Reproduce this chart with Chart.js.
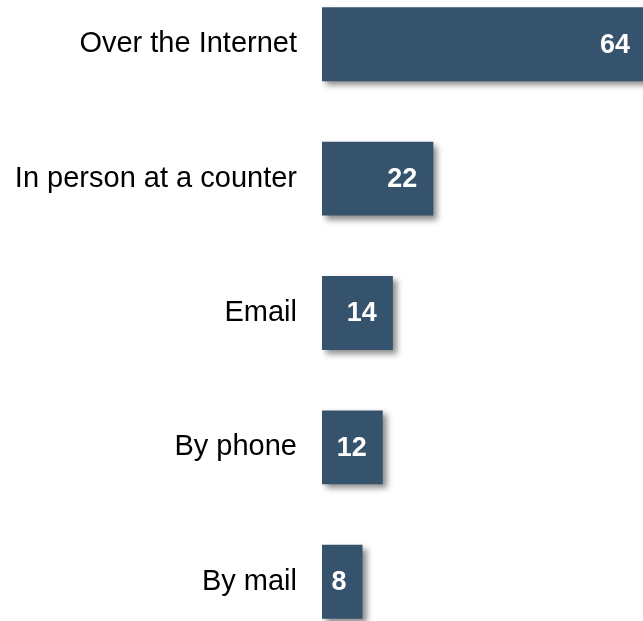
<!DOCTYPE html>
<html>
<head>
<meta charset="utf-8">
<script src="https://cdn.jsdelivr.net/npm/chart.js@4/dist/chart.umd.min.js"></script>
<style>
  html, body { margin:0; padding:0; background:#fff; overflow:hidden; }
  body { width:643px; height:621px; position:relative; }
  #chartCanales { position:absolute; left:0; top:-23px; }
</style>
</head>
<body>
<canvas id="chartCanales" width="646" height="672"></canvas>
<script>
// =========================================
// DATOS
// =========================================
const canales = ['Over the Internet', 'In person at a counter', 'Email', 'By phone', 'By mail'];
const valores = [64, 22, 14, 12, 8];

const colorBarra = '#36536d';

// =========================================
// SOMBRA DE LAS BARRAS
// =========================================
const sombraBarras = {
  id: 'sombraBarras',
  beforeDatasetsDraw(chart){
    const ctx = chart.ctx;
    ctx.save();
    ctx.shadowColor = 'rgba(0,0,0,0.45)';
    ctx.shadowBlur = 6;
    ctx.shadowOffsetX = 4;
    ctx.shadowOffsetY = 4;
  },
  afterDatasetsDraw(chart){
    chart.ctx.restore();
  }
};

// =========================================
// VALORES DENTRO DE LA BARRA
// =========================================
const etiquetasValor = {
  id: 'etiquetasValor',
  afterDatasetsDraw(chart){
    const ctx = chart.ctx;
    const meta = chart.getDatasetMeta(0);
    ctx.save();
    ctx.fillStyle = '#ffffff';
    ctx.font = 'bold 27px "Liberation Sans", Arial, sans-serif';
    ctx.textAlign = 'right';
    ctx.textBaseline = 'middle';
    meta.data.forEach((bar, i) => {
      ctx.fillText(String(valores[i]), bar.x - 16, bar.y + 1);
    });
    ctx.restore();
  }
};

new Chart(document.getElementById('chartCanales'), {

  type: 'bar',

  data: {
    labels: canales,
    datasets: [{
      data: valores,
      backgroundColor: colorBarra,
      borderWidth: 0,
      categoryPercentage: 1,
      barPercentage: 0.55
    }]
  },

  options:{
    indexAxis: 'y',
    responsive:false,
    animation:false,
    layout:{ padding:0 },
    plugins:{
      legend:{ display:false },
      tooltip:{ enabled:false }
    },
    scales:{
      x:{
        display:false,
        min:0,
        max:64
      },
      y:{
        grid:{ display:false, drawTicks:false },
        border:{ display:false },
        ticks:{
          color:'#000000',
          padding:25,
          font:{ family:'"Liberation Sans", Arial, sans-serif', size:29 }
        },
        afterFit(scale){
          // ancho fijo y sin margen vertical extra
          scale.width = 322;
          scale.paddingTop = 0;
          scale.paddingBottom = 0;
        }
      }
    }
  },

  plugins:[sombraBarras, etiquetasValor]

});
</script>
</body>
</html>
